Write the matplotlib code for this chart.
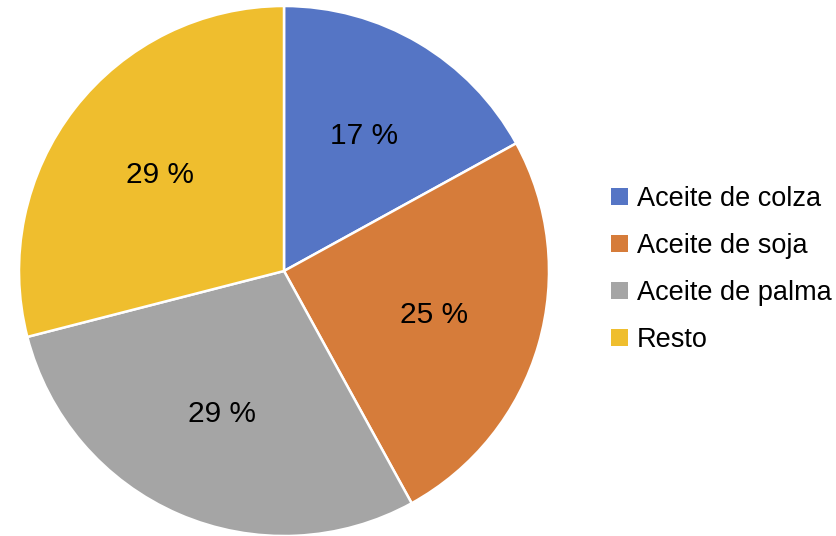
import matplotlib.pyplot as plt
from matplotlib.patches import Rectangle

plt.rcParams['font.family'] = ['Liberation Sans', 'DejaVu Sans']

labels = ['Aceite de colza', 'Aceite de soja', 'Aceite de palma', 'Resto']
shares = [17, 25, 29, 29]
colors = ['#5575C5', '#D67C3A', '#A5A5A5', '#EFBE2E']

W, H = 837, 536
fig = plt.figure(figsize=(W / 100, H / 100), dpi=100)

# pie centred at (284, 271) px with a 265 px radius
cx, cy, r = 284, 271, 265
ax = fig.add_axes([(cx - r) / W, (H - cy - r) / H, 2 * r / W, 2 * r / H])
wedges, texts, autotexts = ax.pie(shares, colors=colors, startangle=90, counterclock=False,
                                  radius=1, autopct='%.0f %%', pctdistance=0.59,
                                  wedgeprops=dict(edgecolor='white', linewidth=1.8),
                                  textprops=dict(fontsize=21.5, color='black'))
ax.set_xlim(-1, 1)
ax.set_ylim(-1, 1)
ax.set_aspect('equal')
ax.axis('off')

# legend drawn by hand on the right
y0, step = 196, 47
for i, (lab, col) in enumerate(zip(labels, colors)):
    y = y0 + i * step
    fig.patches.append(Rectangle((611 / W, (H - y - 8.5) / H), 17 / W, 17 / H,
                                 facecolor=col, edgecolor='none',
                                 transform=fig.transFigure, figure=fig))
    fig.text(637 / W, (H - y) / H, lab, fontsize=19.5, va='center_baseline', ha='left')

fig.savefig('out.png', dpi=100)
